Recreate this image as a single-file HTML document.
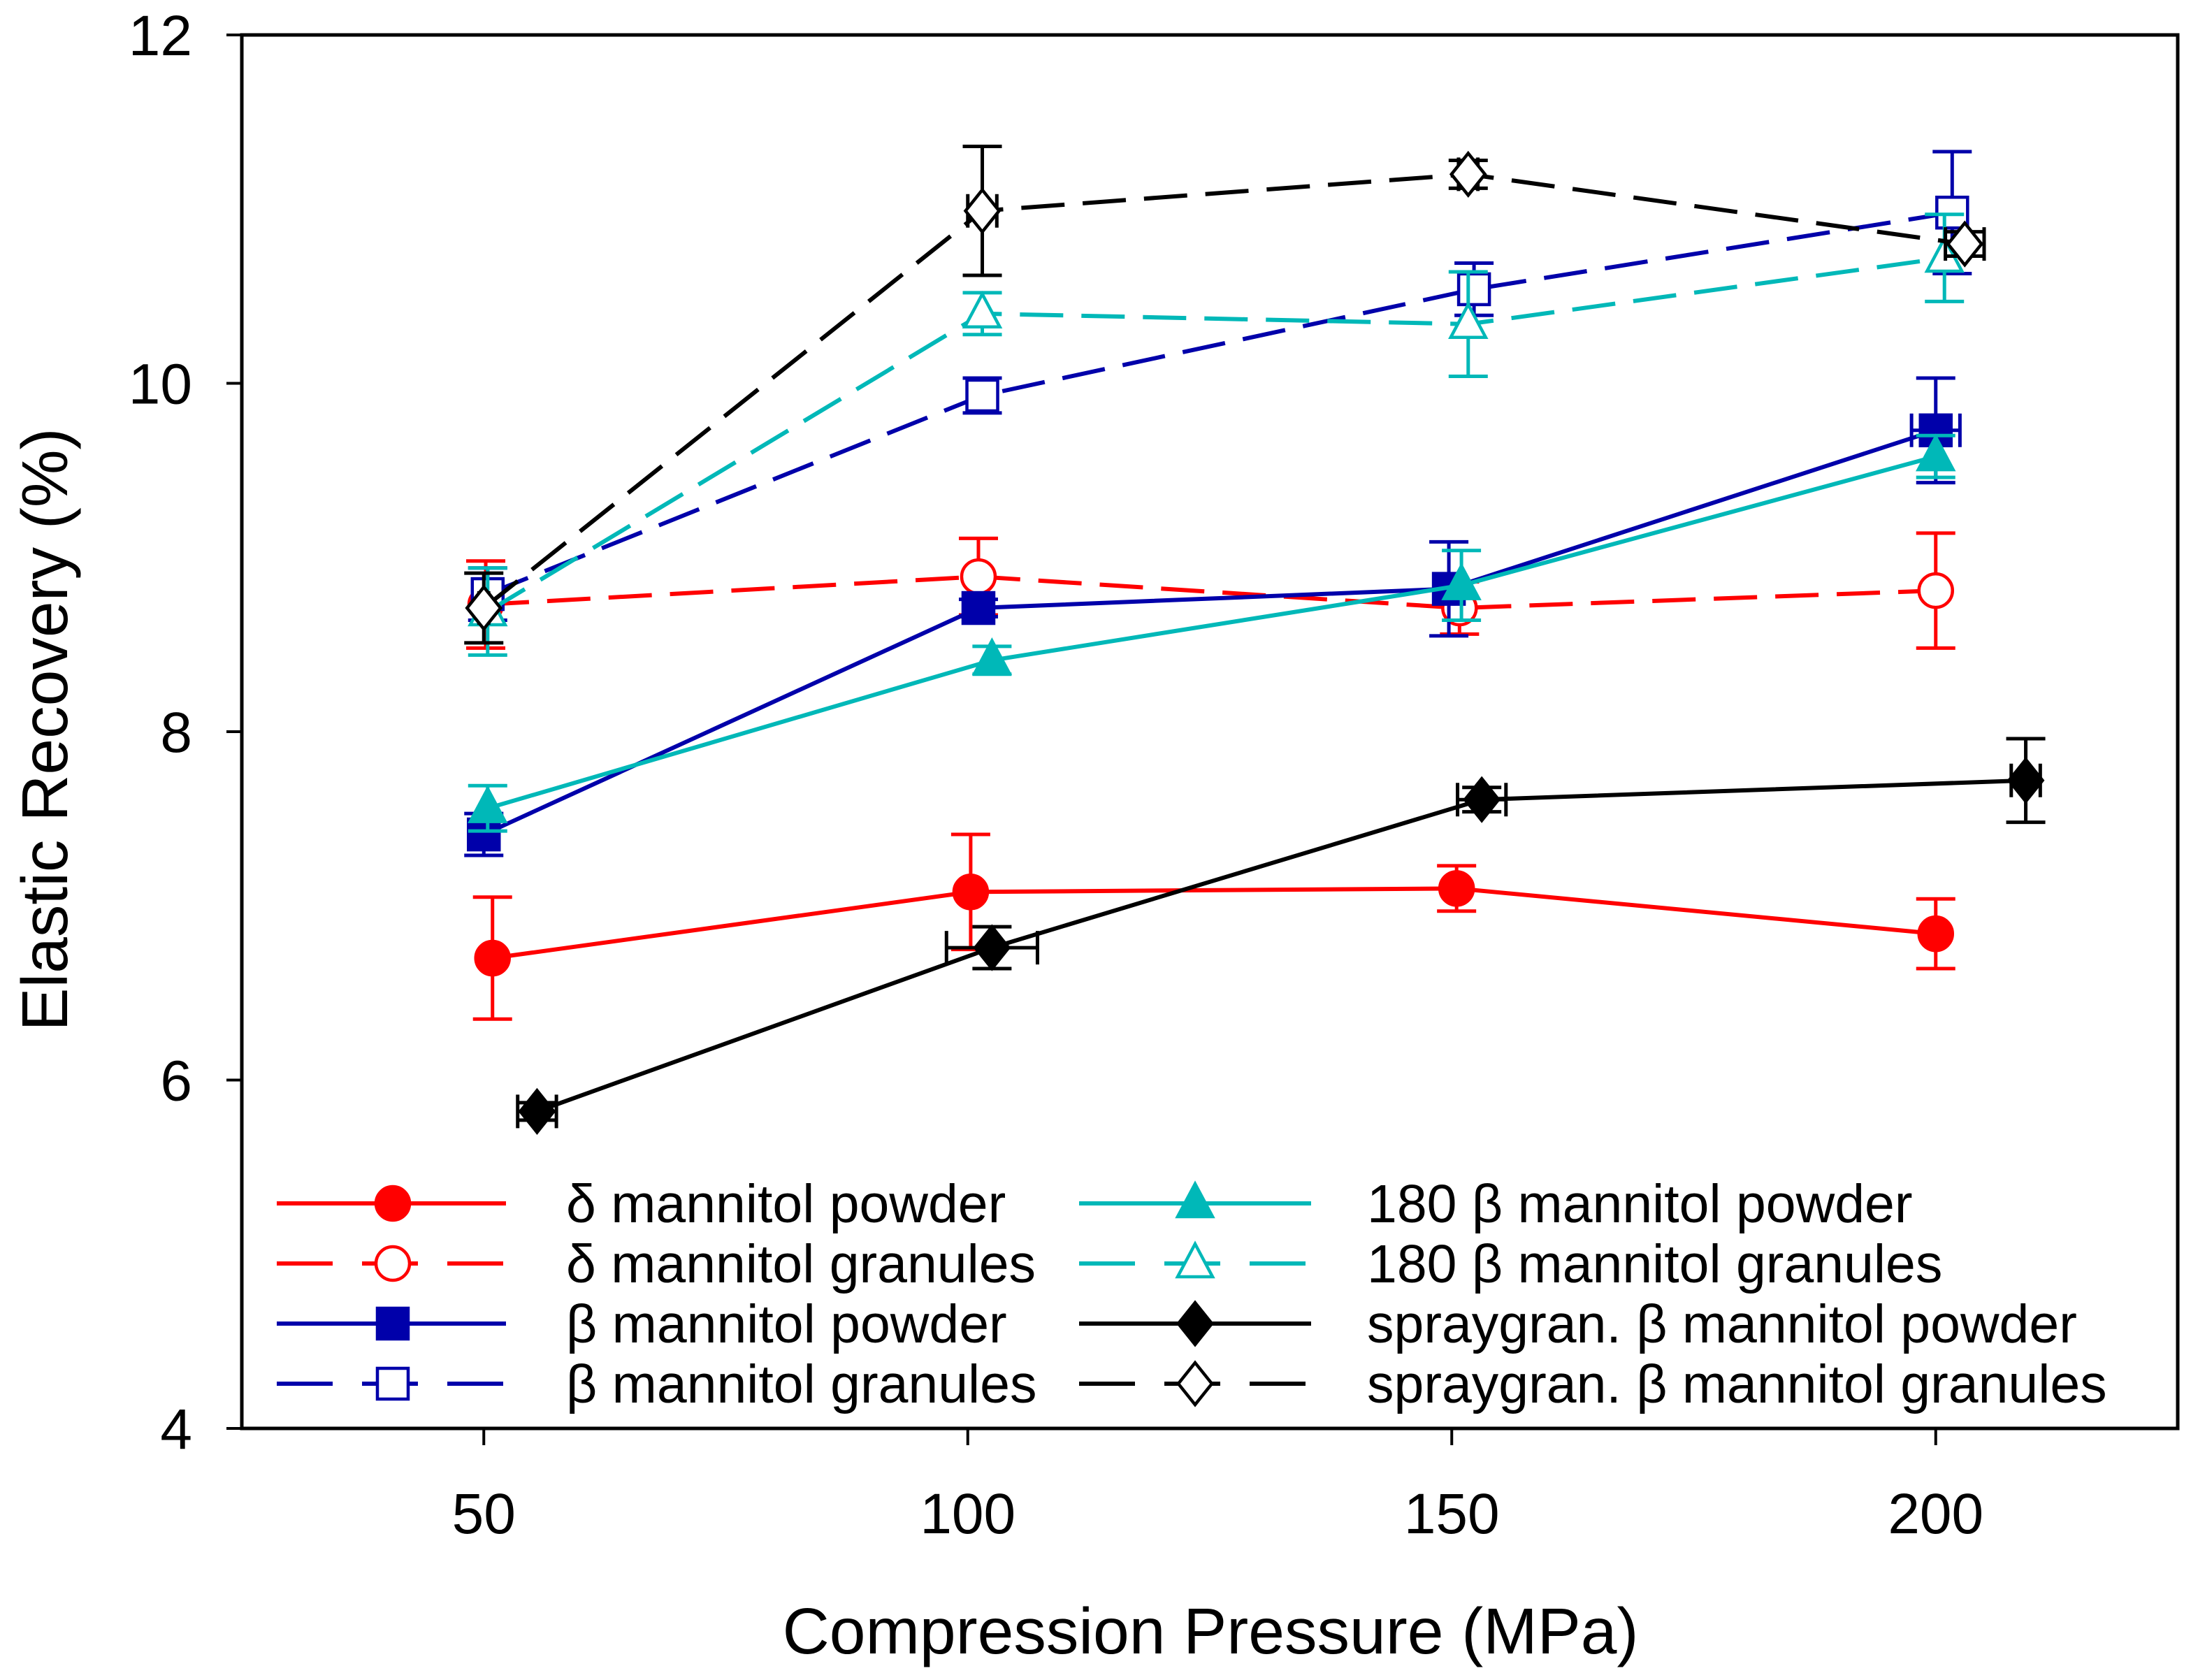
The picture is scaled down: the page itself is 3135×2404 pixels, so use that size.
<!DOCTYPE html>
<html><head><meta charset="utf-8"><style>
html,body{margin:0;padding:0;background:#fff}
svg{display:block}
text{font-family:"Liberation Sans",Arial,sans-serif}
</style></head><body>
<svg id="chart" width="3135" height="2404" viewBox="0 0 3135 2404" xmlns="http://www.w3.org/2000/svg">
<g id="plot"></g>
<g id="axes"></g>
<g id="legend"></g>
</svg>
<script>
const xTicks = [50, 100, 150, 200];
const yTicks = [4, 6, 8, 10, 12];
const seriesNames = ["δ mannitol powder","δ mannitol granules","β mannitol powder","β mannitol granules","180 β mannitol powder","180 β mannitol granules","spraygran. β mannitol powder","spraygran. β mannitol granules"];
const xDeltaPowder = [50.9, 100.3, 150.5, 200];
const yDeltaPowder = [6.70, 7.08, 7.10, 6.84];
const eDeltaPowder = [0.35, 0.33, 0.13, 0.2];
const xDeltaGran = [50.2, 101.1, 150.8, 200];
const yDeltaGran = [8.73, 8.89, 8.71, 8.81];
const eDeltaGran = [0.25, 0.22, 0.15, 0.33];
const xBetaPowder = [50, 101.1, 149.7, 200];
const yBetaPowder = [7.41, 8.71, 8.82, 9.73];
const eBetaPowder = [0.12, 0.05, 0.27, 0.3];
const xBetaGran = [50.4, 101.5, 152.3, 201.7];
const yBetaGran = [8.79, 9.93, 10.54, 10.98];
const eBetaGran = [0.15, 0.1, 0.15, 0.35];
const x180Powder = [50.4, 102.5, 151, 200];
const y180Powder = [7.56, 8.41, 8.84, 9.58];
const e180Powder = [0.13, 0.08, 0.2, 0.12];
const x180Gran = [50.4, 101.5, 151.7, 200.9];
const y180Gran = [8.69, 10.40, 10.34, 10.72];
const e180Gran = [0.25, 0.12, 0.3, 0.25];
const xSprayPowder = [55.5, 102.5, 153.1, 209.3];
const ySprayPowder = [5.82, 6.76, 7.61, 7.72];
const eSprayPowder = [0.05, 0.12, 0.07, 0.24];
const xeSprayPowder = [2, 4.7, 2.5, 1.5];
const xSprayGran = [50, 101.5, 151.7, 203];
const ySprayGran = [8.71, 10.99, 11.2, 10.8];
const eSprayGran = [0.2, 0.37, 0.08, 0.07];
const xeSprayGran = [0.5, 1.5, 1, 2];
const xeBetaPowder = [0.5, 0.5, 0.5, 2.5];

const L=346,R=3116,T=50,B=2044,X0=25,X1=225,Y0=4,Y1=12;
const sx=v=>L+(v-X0)/(X1-X0)*(R-L);
const sy=v=>B-(v-Y0)/(Y1-Y0)*(B-T);
const NS="http://www.w3.org/2000/svg";
function mk(tag,attrs,parent){const e=document.createElementNS(NS,tag);for(const k in attrs)e.setAttribute(k,attrs[k]);parent.appendChild(e);return e;}
const plot=document.getElementById('plot'),axes=document.getElementById('axes'),legend=document.getElementById('legend');
const RED="#ff0000",BLUE="#0000aa",CYAN="#00b8b8",BLK="#000000",DASH="62 26";
const series=[
 {name:seriesNames[0],xs:xDeltaPowder,ys:yDeltaPowder,es:eDeltaPowder,c:RED,dash:null,m:"circle",fill:true},
 {name:seriesNames[1],xs:xDeltaGran,ys:yDeltaGran,es:eDeltaGran,c:RED,dash:DASH,m:"circle",fill:false},
 {name:seriesNames[2],xs:xBetaPowder,ys:yBetaPowder,es:eBetaPowder,xe:xeBetaPowder,c:BLUE,dash:null,m:"square",fill:true},
 {name:seriesNames[3],xs:xBetaGran,ys:yBetaGran,es:eBetaGran,c:BLUE,dash:DASH,m:"square",fill:false},
 {name:seriesNames[4],xs:x180Powder,ys:y180Powder,es:e180Powder,c:CYAN,dash:null,m:"tri",fill:true},
 {name:seriesNames[5],xs:x180Gran,ys:y180Gran,es:e180Gran,c:CYAN,dash:DASH,m:"tri",fill:false},
 {name:seriesNames[6],xs:xSprayPowder,ys:ySprayPowder,es:eSprayPowder,xe:xeSprayPowder,c:BLK,dash:null,m:"diamond",fill:true},
 {name:seriesNames[7],xs:xSprayGran,ys:ySprayGran,es:eSprayGran,xe:xeSprayGran,c:BLK,dash:DASH,m:"diamond",fill:false}
];
function marker(kind,cx,cy,c,fill,parent){
  const a={stroke:c,'stroke-width':4.5,fill:fill?c:'#fff'};let e;
  if(kind==="circle"){a.cx=cx;a.cy=cy;a.r=24;e=mk('circle',a,parent);}
  else if(kind==="square"){a.x=cx-22;a.y=cy-22;a.width=44;a.height=44;e=mk('rect',a,parent);}
  else if(kind==="tri"){a.points=`${cx},${cy-28} ${cx+25},${cy+19} ${cx-25},${cy+19}`;e=mk('polygon',a,parent);}
  else {a.points=`${cx},${cy-30} ${cx+24},${cy} ${cx},${cy+30} ${cx-24},${cy}`;e=mk('polygon',a,parent);}
  return e;
}
series.forEach((s,si)=>{
  const g=mk('g',{},plot);
  
  
  const pts=s.xs.map((x,i)=>sx(x)+','+sy(s.ys[i])).join(' ');
  const ln=mk('polyline',{points:pts,fill:'none',stroke:s.c,'stroke-width':6},g);
  if(s.dash)ln.setAttribute('stroke-dasharray',s.dash);
  
  
  s.xs.forEach((x,i)=>{
    const cx=sx(x),cy=sy(s.ys[i]),yt=sy(s.ys[i]+s.es[i]),yb=sy(s.ys[i]-s.es[i]);
    const eb=mk('path',{d:`M${cx},${yt}V${yb}M${cx-28},${yt}H${cx+28}M${cx-28},${yb}H${cx+28}`,stroke:s.c,'stroke-width':5,fill:'none'},g);
    
    
    if(s.xe){const xl=sx(x-s.xe[i]),xr=sx(x+s.xe[i]);
      const xb=mk('path',{d:`M${xl},${cy}H${xr}M${xl},${cy-24}V${cy+24}M${xr},${cy-24}V${cy+24}`,stroke:s.c,'stroke-width':5,fill:'none'},g);
      
      }
    const m=marker(s.m,cx,cy,s.c,s.fill,g);
    
    
  });
});
const fr=mk('rect',{x:L,y:T,width:R-L,height:B-T,fill:'none',stroke:'#000','stroke-width':5},axes);


xTicks.forEach(v=>{
  const tk=mk('line',{x1:sx(v),x2:sx(v),y1:B,y2:B+24,stroke:'#000','stroke-width':4},axes);
  
  
  const t=mk('text',{x:sx(v),y:2194,'font-size':82,'text-anchor':'middle',fill:'#000'},axes);t.textContent=v;
  
  
});
yTicks.forEach(v=>{
  const tk=mk('line',{x1:L-22,x2:L,y1:sy(v),y2:sy(v),stroke:'#000','stroke-width':4},axes);
  
  
  const t=mk('text',{x:275,y:sy(v)+29,'font-size':82,'text-anchor':'end',fill:'#000'},axes);t.textContent=v;
  
  
});
const xt=mk('text',{x:1732,y:2366,'font-size':93,'text-anchor':'middle',fill:'#000'},axes);xt.textContent="Compression Pressure (MPa)";


const yt=mk('text',{x:0,y:0,'font-size':93,'text-anchor':'middle',fill:'#000',transform:'translate(96,1044) rotate(-90)'},axes);yt.textContent="Elastic Recovery (%)";


series.forEach((s,si)=>{
  const col=si<4?0:1,row=si%4;
  const lx0=col?1544:396,lx1=col?1876:724,mx=col?1710:562,tx=col?1956:810,yy=1722+row*86;
  const g=mk('g',{},legend);
  
  
  const ln=mk('line',{x1:lx0,x2:lx1,y1:yy,y2:yy,stroke:s.c,'stroke-width':6},g);
  if(s.dash)ln.setAttribute('stroke-dasharray','80 42');
  marker(s.m,mx,yy,s.c,s.fill,g);
  const t=mk('text',{x:tx,y:yy+27,'font-size':77,fill:'#000'},g);t.textContent=s.name;
});
</script>
</body></html>
